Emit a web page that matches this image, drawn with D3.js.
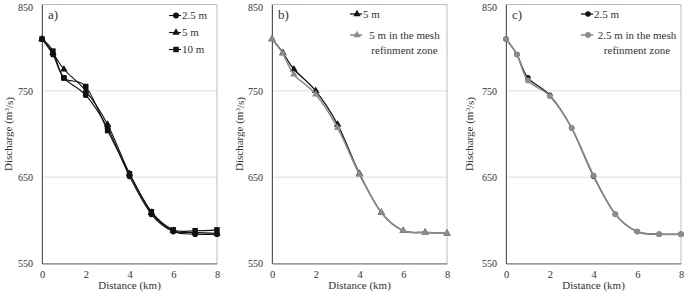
<!DOCTYPE html>
<html>
<head>
<meta charset="utf-8">
<script src="https://cdn.jsdelivr.net/npm/d3@7"></script>
<style>
  body { margin: 0; background: #fff; }
  svg text { font-family: 'Liberation Serif', 'Times New Roman', serif !important; fill: #333; }
</style>
</head>
<body>
<svg id="chart" width="685" height="291"></svg>
<script>
// distances along the reach (km)
var distance = [0, 0.5, 1, 2, 3, 4, 5, 6, 7, 8];
// discharge (m3/s) for each mesh size
var q2_5 = [810, 792, 765, 745, 707, 651, 607, 587, 584, 584];
var q5 = [810, 794, 775, 750, 711, 654, 609, 588, 586, 585];
var q10 = [810, 796, 765, 755, 704, 654, 610, 589, 588, 589];
var q5Refined = [810, 793, 769, 746, 707, 653, 609, 588, 586, 585];
var q2_5Refined = [810, 792, 762, 744, 707, 652, 607, 587, 584, 584];

var xTicks = [0, 2, 4, 6, 8];
var yTicks = [550, 650, 750, 850];

var svg = d3.select('#chart');

var panels = [
  { label: 'a)', left: 42, titleX: 8, legendX: 169,
    series: [
      { name: ['2.5 m'], values: q2_5, color: '#111', symbol: d3.symbolCircle, size: 26, width: 1.1 },
      { name: ['5 m'], values: q5, color: '#111', symbol: d3.symbolTriangle, size: 24, width: 1.1 },
      { name: ['10 m'], values: q10, color: '#111', symbol: d3.symbolSquare, size: 30, width: 1.1 }
    ] },
  { label: 'b)', left: 272, titleX: 239, legendX: 350,
    series: [
      { name: ['5 m'], values: q5, color: '#111', symbol: d3.symbolTriangle, size: 24, width: 1.3 },
      { name: ['5 m in the mesh', 'refinment zone'], values: q5Refined, color: '#8c8c8c', symbol: d3.symbolTriangle, size: 24, width: 1.6 }
    ] },
  { label: 'c)', left: 506, titleX: 469, legendX: 581,
    series: [
      { name: ['2.5 m'], values: q2_5, color: '#111', symbol: d3.symbolCircle, size: 24, width: 1.3 },
      { name: ['2.5 m in the mesh', 'refinment zone'], values: q2_5Refined, color: '#8c8c8c', symbol: d3.symbolCircle, size: 26, width: 1.6 }
    ] }
];

var plotW = 175, plotTop = 4.5, plotBottom = 263.5;
var serif = "'Liberation Serif', 'Times New Roman', serif";

panels.forEach(function(p) {
  var g = svg.append('g');
  var x = d3.scaleLinear().domain([0, 8]).range([p.left, p.left + plotW]);
  var y = d3.scaleLinear().domain([550, 850]).range([plotBottom, plotTop]);

  // gridlines
  g.selectAll('.grid').data([650, 750]).enter().append('line')
    .attr('x1', x(0)).attr('x2', x(8))
    .attr('y1', function(d) { return y(d); }).attr('y2', function(d) { return y(d); })
    .attr('stroke', '#dcdcdc').attr('stroke-width', 1);

  // plot frame
  g.append('rect')
    .attr('x', x(0)).attr('y', y(850))
    .attr('width', x(8) - x(0)).attr('height', y(550) - y(850))
    .attr('fill', 'none').attr('stroke', '#bdbdbd').attr('stroke-width', 1);

  // axes
  var yAxis = d3.axisLeft(y).tickValues(yTicks).tickSize(0).tickPadding(9);
  var yg = g.append('g').attr('transform', 'translate(' + x(0) + ',0)').call(yAxis);
  yg.attr('font-family', serif);
  yg.select('.domain').attr('stroke', '#555');
  yg.selectAll('text').style('font-size', '10px')
    .attr('dy', function(d) { return d === 850 ? '0.55em' : '0.32em'; });

  var xAxis = d3.axisBottom(x).tickValues(xTicks).tickSize(0).tickPadding(7);
  var xg = g.append('g').attr('transform', 'translate(0,' + y(550) + ')').call(xAxis);
  xg.attr('font-family', serif);
  xg.select('.domain').attr('stroke', '#777');
  xg.selectAll('text').style('font-size', '10.5px');

  // axis titles
  g.append('text')
    .attr('x', (x(0) + x(8)) / 2).attr('y', 289)
    .attr('text-anchor', 'middle').attr('font-family', serif).style('font-size', '11px')
    .text('Distance (km)');

  var yt = g.append('text')
    .attr('transform', 'translate(' + p.titleX + ',' + ((plotTop + plotBottom) / 2) + ') rotate(-90)')
    .attr('text-anchor', 'middle').attr('dy', '0.35em').attr('font-family', serif).style('font-size', '11px');
  yt.append('tspan').text('Discharge (m');
  yt.append('tspan').attr('dy', '-0.4em').style('font-size', '7px').text('3');
  yt.append('tspan').attr('dy', '0.4em').text('/s)');

  // panel label
  g.append('text').attr('x', x(0) + 6).attr('y', 19).attr('font-family', serif)
    .style('font-size', '13px').text(p.label);

  // series lines + markers
  var line = d3.line()
    .x(function(d, i) { return x(distance[i]); })
    .y(function(d) { return y(d); })
    .curve(d3.curveCardinal.tension(0));

  p.series.forEach(function(s) {
    g.append('path').datum(s.values)
      .attr('d', line).attr('fill', 'none')
      .attr('stroke', s.color).attr('stroke-width', s.width);
    g.selectAll(null).data(s.values).enter().append('path')
      .attr('d', d3.symbol().type(s.symbol).size(s.size))
      .attr('transform', function(d, i) { return 'translate(' + x(distance[i]) + ',' + y(d) + ')'; })
      .attr('fill', s.color);
  });

  // legend
  var rowY = p.series.length === 3 ? [15.5, 32.5, 49.5] : [14, 35];
  p.series.forEach(function(s, k) {
    var ly = rowY[k];
    var lx = p.legendX;
    g.append('line').attr('x1', lx).attr('x2', lx + 12).attr('y1', ly).attr('y2', ly)
      .attr('stroke', s.color).attr('stroke-width', s.width);
    g.append('path').attr('d', d3.symbol().type(s.symbol).size(s.size))
      .attr('transform', 'translate(' + (lx + 7) + ',' + ly + ')')
      .attr('fill', s.color);
    if (s.name.length === 1) {
      g.append('text').attr('x', lx + 13).attr('y', ly).attr('dy', '0.35em')
        .attr('font-family', serif).style('font-size', '11px').text(s.name[0]);
    } else {
      var t = g.append('text').attr('text-anchor', 'middle').attr('font-family', serif).style('font-size', '11px');
      var cx = (lx + 13 + x(8) - 1) / 2;
      t.append('tspan').attr('x', cx).attr('y', ly).attr('dy', '0.35em').text(s.name[0]);
      t.append('tspan').attr('x', cx).attr('y', ly + 15).attr('dy', '0.35em').text(s.name[1]);
    }
  });
});
</script>
</body>
</html>
